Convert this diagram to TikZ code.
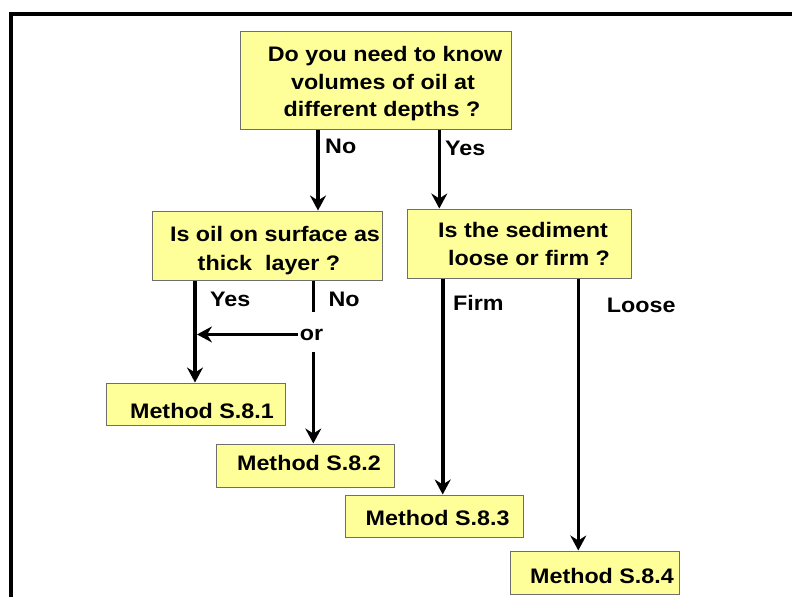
\documentclass[tikz,border=0pt]{standalone}
\usepackage{fontspec}
\setmainfont{Liberation Sans}[FakeStretch=1.11]
\usetikzlibrary{arrows.meta}
\definecolor{boxfill}{RGB}{255,255,153}
\definecolor{boxline}{RGB}{110,110,110}
\tikzset{
  txt/.style={font=\bfseries\fontsize{21}{27}\selectfont, inner sep=0pt},
  box/.style={draw=boxline, line width=1pt, fill=boxfill, inner sep=0pt},
  conn/.style={line width=3.6pt, black},
  arr/.style={conn, -{Stealth[length=15pt,width=16pt,inset=5pt]}},
}
\begin{document}
\begin{tikzpicture}[x=1pt,y=-1pt]
\useasboundingbox (0,0) rectangle (792,597);
% frame
\draw[line width=4pt] (11,597) -- (11,13.7) -- (792,13.7);
% boxes
\node[box, minimum width=271pt, minimum height=98pt] (q1) at (375.5,80) {};
\node[box, minimum width=230pt, minimum height=69pt] (q2) at (267,245.5) {};
\node[box, minimum width=224pt, minimum height=69pt] (q3) at (519,243.5) {};
\node[box, minimum width=179pt, minimum height=42pt] (m1) at (195.5,404) {};
\node[box, minimum width=178pt, minimum height=43pt] (m2) at (305,465.5) {};
\node[box, minimum width=178pt, minimum height=42pt] (m3) at (434,516) {};
\node[box, minimum width=169pt, minimum height=43pt] (m4) at (594.5,572.5) {};
% box texts
\node[txt, anchor=base] (q1a) at (385,61.5) {Do you need to know};
\node[txt, anchor=base] (q1b) at (383,89) {volumes of oil at};
\node[txt, anchor=base] (q1c) at (382,116.5) {different depths ?};
\node[txt, anchor=base] (q2a) at (275,241.5) {Is oil on surface as};
\node[txt, anchor=base] (q2b) at (269,270) {thick~ layer ?};
\node[txt, anchor=base] (q3a) at (523,237.5) {Is the sediment};
\node[txt, anchor=base] (q3b) at (529,265) {loose or firm ?};
\node[txt, anchor=base] (m1t) at (202,418) {Method S.8.1};
\node[txt, anchor=base] (m2t) at (309,470) {Method S.8.2};
\node[txt, anchor=base] (m3t) at (437.6,525) {Method S.8.3};
\node[txt, anchor=base] (m4t) at (602,583) {Method S.8.4};
% connector x positions
\coordinate (xno) at (318,0);
\coordinate (xyes) at (439.3,0);
\coordinate (xl) at (195,0);
\coordinate (xr) at (313.3,0);
\coordinate (xfirm) at (442.7,0);
\coordinate (xloose) at (578.3,0);
\coordinate (noend) at (313.3,312);
% labels
\node[txt, anchor=base west] (lno) at (325,153) {No};
\node[txt, anchor=base west] (lyes) at (445,155) {Yes};
\node[txt, anchor=base west] (lyes2) at (210,306) {Yes};
\node[txt, anchor=base west] (lno2) at (328.3,306) {No};
\node[txt, anchor=base west] (lfirm) at (453,310.5) {Firm};
\node[txt, anchor=base west] (lloose) at (606.7,312.5) {Loose};
\node[txt, anchor=base, inner sep=1.5pt] (or) at (311.5,340) {or};
% connectors
\draw[arr] (q1.south -| xno) -- (q2.north -| xno);
\draw[arr] (q1.south -| xyes) -- (q3.north -| xyes);
\draw[arr] (q2.south -| xl) -- (m1.north -| xl);
\draw[conn] (q2.south -| xr) -- (noend);
\draw[arr, shorten >=2pt] (or.west) -- (or.west -| xl);
\draw[arr, shorten <=10pt] (or.south -| xr) -- (m2.north -| xr);
\draw[arr] (q3.south -| xfirm) -- (m3.north -| xfirm);
\draw[arr] (q3.south -| xloose) -- (m4.north -| xloose);
\end{tikzpicture}
\end{document}
